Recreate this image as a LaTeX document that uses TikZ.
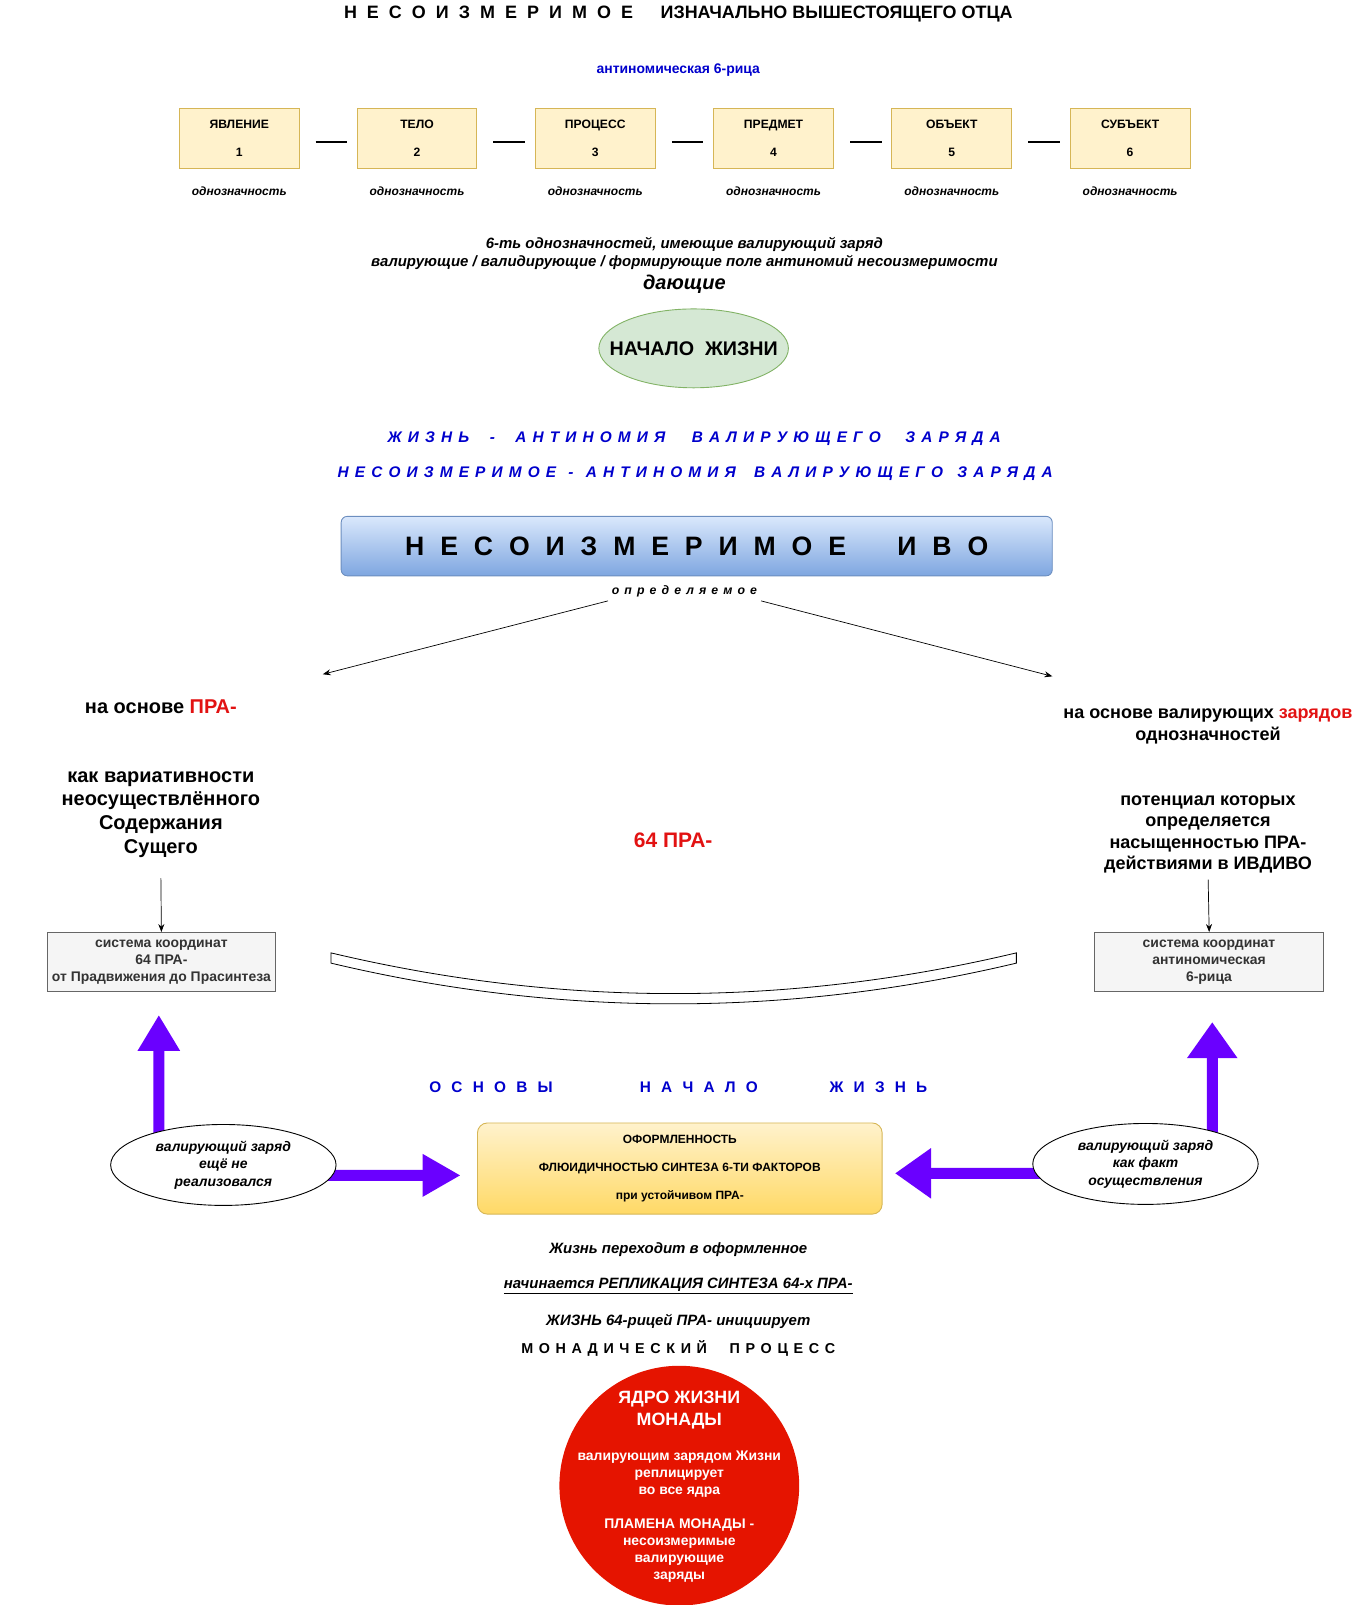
\documentclass[tikz,border=0pt]{standalone}
\usepackage{fontspec}
\setmainfont{Liberation Sans}
\usetikzlibrary{arrows.meta,calc,shapes.geometric,backgrounds}

\definecolor{yelfill}{RGB}{255,242,204}
\definecolor{yeldraw}{RGB}{214,182,86}
\definecolor{yeldeep}{RGB}{255,217,102}
\definecolor{grnfill}{RGB}{213,232,212}
\definecolor{grndraw}{RGB}{130,179,102}
\definecolor{bluefill}{RGB}{218,232,252}
\definecolor{bluedeep}{RGB}{126,166,224}
\definecolor{bluedraw}{RGB}{108,142,191}
\definecolor{graydraw}{RGB}{102,102,102}
\definecolor{grayfill}{RGB}{245,245,245}
\definecolor{graytext}{RGB}{51,51,51}
\definecolor{inkblue}{RGB}{0,0,204}
\definecolor{prared}{RGB}{226,18,18}
\definecolor{corered}{RGB}{229,20,0}
\definecolor{arrowviolet}{RGB}{106,0,255}

\newcommand{\fsz}[2]{\fontsize{#1}{#2}\selectfont}
\newcommand{\wgap}[1]{\hspace{#1pt}}

\tikzset{every picture/.style={line width=0.9pt},
  sixbox/.style={draw=yeldraw, fill=yelfill, minimum width=117, minimum height=58, align=center, font=\bfseries\fsz{11.85}{14}},
  oneval/.style={font=\bfseries\itshape\fsz{11.7}{14}},
  sixdash/.style={line width=2pt, shorten <=16pt, shorten >=10pt, transform canvas={yshift=-4pt}},
  blueline/.style={text=inkblue, font=\bfseries\itshape\fsz{15}{18}},
  bigtext/.style={font=\bfseries\fsz{19.5}{23.3}, align=center},
  sysbox/.style={draw=graydraw, fill=grayfill, text=graytext, minimum width=223, minimum height=58, align=center, font=\bfseries\fsz{13.6}{16.5}},
  thinarrow/.style={-{Stealth[length=8pt,width=6pt]}, line width=0.7pt},
  fatarrow/.style={draw=arrowviolet, line width=11pt},
  chargeell/.style={ellipse, draw, fill=white, minimum width=220, minimum height=79, inner sep=0pt, align=center, font=\bfseries\itshape\fsz{13.6}{17}},
  plaintext/.style={font=\bfseries\itshape\fsz{14.6}{17}},
  coretext/.style={text=white, align=center, font=\bfseries\fsz{13.6}{16.7}}
}

\begin{document}
\begin{tikzpicture}[x=1pt,y=-1pt,scale=1.0246,transform shape]
\useasboundingbox (0,0) rectangle (1330.3,1566.5);

% Text Node
\node (title) at (662,14) {\bfseries\fsz{17.5}{20}{\spaceskip=9.8pt Н Е С О И З М Е Р И М О Е}\wgap{27}ИЗНАЧАЛЬНО ВЫШЕСТОЯЩЕГО ОТЦА};
% Text Node
\node[text=inkblue, font=\bfseries\fsz{13.6}{15}] (sixname) at (662,68) {антиномическая 6-рица};

%Shape: Rectangle
\node[sixbox] (yav) at (233.5,135) {ЯВЛЕНИЕ\\[14pt]1};
\node[sixbox] (telo) at (407,135) {ТЕЛО\\[14pt]2};
\node[sixbox] (proc) at (581,135) {ПРОЦЕСС\\[14pt]3};
\node[sixbox] (pred) at (755,135) {ПРЕДМЕТ\\[14pt]4};
\node[sixbox] (obj) at (929,135) {ОБЪЕКТ\\[14pt]5};
\node[sixbox] (subj) at (1103,135) {СУБЪЕКТ\\[14pt]6};

%Straight Lines
\draw[sixdash] (yav.east) -- (telo.west);
\draw[sixdash] (telo.east) -- (proc.west);
\draw[sixdash] (proc.east) -- (pred.west);
\draw[sixdash] (pred.east) -- (obj.west);
\draw[sixdash] (obj.east) -- (subj.west);

% Text Node
\node[oneval] (v1) at (233.5,187) {однозначность};
\node[oneval] (v2) at (407,187) {однозначность};
\node[oneval] (v3) at (581,187) {однозначность};
\node[oneval] (v4) at (755,187) {однозначность};
\node[oneval] (v5) at (929,187) {однозначность};
\node[oneval] (v6) at (1103,187) {однозначность};

% Text Node
\node[plaintext, align=center] (charge) at (668,247.5) {6-ть однозначностей, имеющие валирующий заряд\\валирующие / валидирующие / формирующие поле антиномий несоизмеримости};
\node[font=\bfseries\itshape\fsz{19.5}{22}] (giving) at (668,277) {дающие};

%Shape: Ellipse
\node[ellipse, draw=grndraw, fill=grnfill, minimum width=185, minimum height=77, label={[font=\bfseries\fsz{19.25}{22}]center:НАЧАЛО\ \ ЖИЗНИ}] (lifestart) at (677,340) {};

% Text Node
\node[blueline] (lifeant) at (677.5,428) {\spaceskip=6pt Ж И З Н Ь\wgap{20}-\wgap{20}А Н Т И Н О М И Я\wgap{26}В А Л И Р У Ю Щ Е Г О\wgap{24}З А Р Я Д А};
\node[blueline] (incomant) at (678.5,462) {\spaceskip=6pt Н Е С О И З М Е Р И М О Е\wgap{12}-\wgap{12}А Н Т И Н О М И Я\wgap{18}В А Л И Р У Ю Щ Е Г О\wgap{14}З А Р Я Д А};

%Shape: Rounded Rectangle
\node[draw=bluedraw, top color=bluefill, bottom color=bluedeep, rounded corners=6pt, minimum width=694, minimum height=58, font=\bfseries\fsz{26}{30}] (ivo) at (680,533) {\spaceskip=15.5pt Н Е С О И З М Е Р И М О Е\wgap{50}И В О};
% Text Node
\node[font=\bfseries\itshape\fsz{12}{14}] (defined) at (668,577) {\spaceskip=5pt о п р е д е л я е м о е};

\coordinate (leftgo) at (315,658);
\coordinate (rightgo) at (1027,660);
%Straight Lines
\draw[thinarrow] (defined.south west) -- (leftgo);
\draw[thinarrow] (defined.south east) -- (rightgo);

% Text Node
\node[bigtext] (praleft) at (157,690) {на основе {\color{prared}ПРА-}};
\node[bigtext] (variance) at (157,795) {как вариативности\\неосуществлённого\\Содержания\\Сущего};
\node[sysbox] (lsys) at (157.5,939) {система координат\\64 ПРА-\\от Прадвижения до Прасинтеза};
\draw[thinarrow] ($(variance.south)+(0,16)$) -- (lsys.north);

% Text Node
\node[bigtext, font=\bfseries\fsz{17.6}{22}] (chargeright) at (1179,709) {на основе валирующих {\color{prared}зарядов}\\однозначностей};
\node[bigtext, font=\bfseries\fsz{17.6}{21}] (potential) at (1179,814.5) {потенциал которых\\определяется\\насыщенностью ПРА-\\действиями в ИВДИВО};
\node[sysbox] (rsys) at (1180,939) {система координат\\антиномическая\\6-рица};
\draw[thinarrow] ($(potential.south)+(0,2)$) -- (rsys.north);

% Text Node
\node[bigtext, font=\bfseries\fsz{20.5}{24}, text=prared] (pra64) at (657,820) {64 ПРА-};

%Shape: Curved Band
\draw[line width=0.8pt] (323,930) .. controls (546,983) and (769,983) .. (992,930) -- (992,940) .. controls (769,993) and (546,993) .. (323,940) -- cycle;

% Text Node
\node[text=inkblue, font=\bfseries\fsz{15}{18}] (basis) at (662,1061) {\spaceskip=10pt О С Н О В Ы\wgap{85}Н А Ч А Л О\wgap{70}Ж И З Н Ь};

%Shape: Ellipse
\node[chargeell] (lell) at (218,1137) {валирующий заряд\\ещё не\\реализовался};
\node[chargeell] (rell) at (1118,1136) {валирующий заряд\\как факт\\осуществления};

%Shape: Rounded Rectangle
\node[draw=yeldraw, top color=yelfill, bottom color=yeldeep, rounded corners=10pt, minimum width=395, minimum height=89, align=center, font=\bfseries\fsz{11.7}{13.5}] (shape) at (663.5,1140.5) {ОФОРМЛЕННОСТЬ\\[14pt]ФЛЮИДИЧНОСТЬЮ СИНТЕЗА 6-ТИ ФАКТОРОВ\\[14pt]при устойчивом ПРА-};

%Block Arrows
\begin{scope}[on background layer]
\draw[fatarrow, -{Triangle[length=36pt,width=40pt]}] ($(lell.center)+(-63,0)$) -- ($(lsys.south)+(-2.5,22)$);
\draw[fatarrow, -{Triangle[length=38pt,width=40pt]}] ($(lell.center)+(0,10)$) -- ($(shape.west)+(-16,6.5)$);
\draw[fatarrow, -{Triangle[length=36pt,width=48pt]}] ($(rell.center)+(65,0)$) -- ($(rsys.south)+(3,29)$);
\draw[fatarrow, -{Triangle[length=36pt,width=48pt]}] ($(rell.center)+(0,9)$) -- ($(shape.east)+(12,4.5)$);
\end{scope}

% Text Node
\node[plaintext] (passes) at (662,1220) {Жизнь переходит в оформленное};
\node[plaintext] (replic) at (662,1255) {\underline{начинается РЕПЛИКАЦИЯ СИНТЕЗА 64-х ПРА-}};
\node[plaintext] (inits) at (662,1290) {ЖИЗНЬ 64-рицей ПРА- инициирует};
\node[font=\bfseries\fsz{14}{17}] (monproc) at (662,1316) {\spaceskip=5.5pt М О Н А Д И Ч Е С К И Й\wgap{22}П Р О Ц Е С С};

%Shape: Circle
\node[circle, fill=corered, minimum size=234] (core) at (663,1450) {};
\node[coretext, font=\bfseries\fsz{17.4}{22}] (coretitle) at (663,1376) {ЯДРО ЖИЗНИ\\МОНАДЫ};
\node[coretext] (corerep) at (663,1439) {валирующим зарядом Жизни\\реплицирует\\во все ядра};
\node[coretext] (coreflame) at (663,1513.5) {ПЛАМЕНА МОНАДЫ -\\несоизмеримые\\валирующие\\заряды};

\end{tikzpicture}
\end{document}
